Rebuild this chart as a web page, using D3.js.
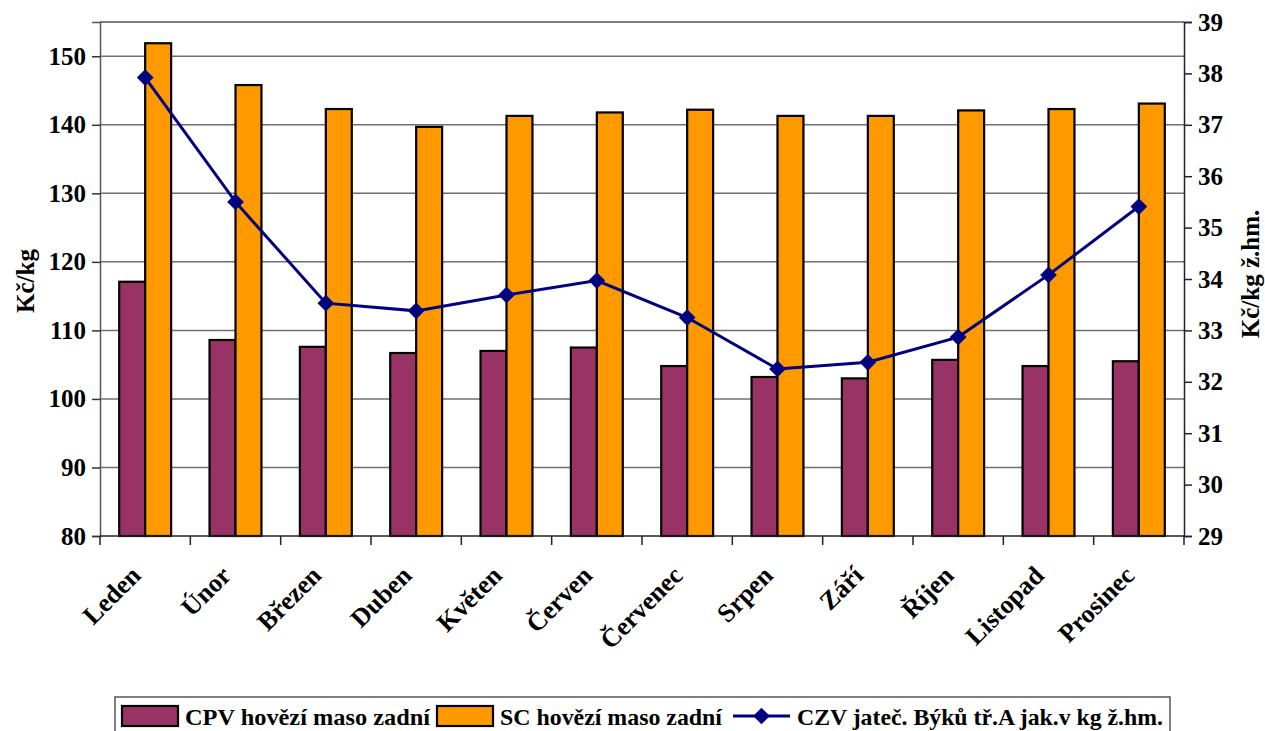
<!DOCTYPE html>
<html><head><meta charset="utf-8">
<script src="https://cdn.jsdelivr.net/npm/d3@7"></script>
</head>
<body style="margin:0">
<svg id="chart" width="1265" height="731" font-family="Liberation Serif" style="font-family:'Liberation Serif',serif"></svg>
<script>
const months = ["Leden","Únor","Březen","Duben","Květen","Červen","Červenec","Srpen","Září","Říjen","Listopad","Prosinec"];
const cpv = [117.1,108.6,107.6,106.7,107.0,107.5,104.8,103.2,103.0,105.7,104.8,105.5];
const sc  = [151.9,145.8,142.3,139.7,141.3,141.8,142.2,141.3,141.3,142.1,142.3,143.1];
const czv = [37.92,35.50,33.53,33.38,33.69,33.97,33.25,32.25,32.38,32.87,34.08,35.41];
const leftTicks = [80,90,100,110,120,130,140,150];
const rightTicks = [29,30,31,32,33,34,35,36,37,38,39];
const seriesNames = ["CPV hovězí maso zadní","SC hovězí maso zadní","CZV jateč. Býků tř.A jak.v kg ž.hm."];
const leftTitle = "Kč/kg";
const rightTitle = "Kč/kg ž.hm.";

const colors = {cpv:"#993366", sc:"#FF9900", czv:"#000080"};
const L = 100, R = 1184, T = 22, B = 536;
const svg = d3.select("#chart");

const x = d3.scaleBand().domain(months).range([L, R]).padding(0);
const x1 = d3.scaleBand().domain(["cpv","sc"]).range([0, x.bandwidth()]).paddingInner(0).paddingOuter(0.74);
const yL = d3.scaleLinear().domain([80,155]).range([B, T]);
const yR = d3.scaleLinear().domain([29,39]).range([B, T]);

function styleText(sel, size){
  return sel.attr("font-family", "Liberation Serif").attr("font-weight", "bold").attr("font-size", size)
    .style("font-family", "'Liberation Serif', serif").style("font-weight", "bold").style("font-size", size + "px")
    .attr("fill", "#000");
}

svg.append("g").selectAll("line").data(leftTicks.filter(d=>d>80)).join("line")
  .attr("x1", L).attr("x2", R).attr("y1", d=>yL(d)).attr("y2", d=>yL(d))
  .attr("stroke", "#707070").attr("stroke-width", 1.5);
svg.append("line").attr("x1", L).attr("x2", R).attr("y1", T).attr("y2", T)
  .attr("stroke", "#808080").attr("stroke-width", 2);

const groups = svg.append("g").selectAll("g").data(months).join("g")
  .attr("transform", d=>`translate(${x(d)},0)`);
groups.append("rect")
  .attr("x", x1("cpv")).attr("width", x1.bandwidth())
  .attr("y", (d,i)=>yL(cpv[i])).attr("height", (d,i)=>B - yL(cpv[i]))
  .attr("fill", colors.cpv).attr("stroke", "#000").attr("stroke-width", 2.2);
groups.append("rect")
  .attr("x", x1("sc")).attr("width", x1.bandwidth())
  .attr("y", (d,i)=>yL(sc[i])).attr("height", (d,i)=>B - yL(sc[i]))
  .attr("fill", colors.sc).attr("stroke", "#000").attr("stroke-width", 2.2);

const axL = svg.append("g").attr("transform", `translate(${L},0)`)
  .call(d3.axisLeft(yL).tickValues(leftTicks).tickSize(8).tickPadding(6).tickFormat(d3.format("d")));
axL.attr("font-family", "Liberation Serif").attr("font-size", 25);
axL.select(".domain").attr("stroke", "#555").attr("stroke-width", 1.5);
axL.selectAll(".tick line").attr("stroke", "#333").attr("stroke-width", 1.5);
styleText(axL.selectAll("text"), 25);

const axR = svg.append("g").attr("transform", `translate(${R},0)`)
  .call(d3.axisRight(yR).tickValues(rightTicks).tickSize(8).tickPadding(6).tickFormat(d3.format("d")));
axR.attr("font-family", "Liberation Serif").attr("font-size", 25);
axR.select(".domain").attr("stroke", "#222").attr("stroke-width", 1.5);
axR.selectAll(".tick line").attr("stroke", "#222").attr("stroke-width", 1.5);
styleText(axR.selectAll("text"), 25);

svg.append("line").attr("x1", L).attr("x2", R).attr("y1", B).attr("y2", B).attr("stroke", "#222").attr("stroke-width", 1.5);
const bounds = months.map(m=>x(m)).concat([R]);
svg.append("g").selectAll("line").data(bounds).join("line")
  .attr("x1", d=>d).attr("x2", d=>d).attr("y1", B).attr("y2", B+9)
  .attr("stroke", "#222").attr("stroke-width", 1.5);
styleText(svg.append("g").selectAll("text").data(months).join("text")
  .attr("transform", d=>`translate(${x(d)+x.bandwidth()/2-3},${B+41}) rotate(-45)`)
  .attr("text-anchor", "end").text(d=>d), 26);

const lineGen = d3.line().x((d,i)=>x(months[i]) + x.bandwidth()/2).y(d=>yR(d));
svg.append("path").datum(czv).attr("d", lineGen)
  .attr("fill", "none").attr("stroke", colors.czv).attr("stroke-width", 3);
svg.append("g").selectAll("path").data(czv).join("path")
  .attr("d", d3.symbol().type(d3.symbolSquare).size(140))
  .attr("transform", (d,i)=>`translate(${x(months[i]) + x.bandwidth()/2},${yR(d)}) rotate(45)`)
  .attr("fill", colors.czv);

styleText(svg.append("text").attr("transform", `translate(34,${(T+B)/2+2}) rotate(-90)`)
  .attr("text-anchor", "middle").text(leftTitle), 25);
styleText(svg.append("text").attr("transform", `translate(1259,${(T+B)/2-5}) rotate(-90)`)
  .attr("text-anchor", "middle").text(rightTitle), 25);

const lg = svg.append("g");
lg.append("rect").attr("x", 115).attr("y", 697).attr("width", 1055).attr("height", 50)
  .attr("fill", "#fff").attr("stroke", "#555").attr("stroke-width", 1.5);
const items = [
  {type:"rect", color:colors.cpv, sx:122, tx:185, tw:245, name:seriesNames[0]},
  {type:"rect", color:colors.sc, sx:437, tx:500, tw:222, name:seriesNames[1]},
  {type:"line", color:colors.czv, sx:733, tx:797, tw:366, name:seriesNames[2]}
];
items.forEach(it=>{
  if (it.type === "rect") {
    lg.append("rect").attr("x", it.sx).attr("y", 706).attr("width", 56).attr("height", 20)
      .attr("fill", it.color).attr("stroke", "#000").attr("stroke-width", 2.2);
  } else {
    lg.append("line").attr("x1", it.sx).attr("x2", it.sx+57).attr("y1", 716).attr("y2", 716)
      .attr("stroke", it.color).attr("stroke-width", 3);
    lg.append("path").attr("d", d3.symbol().type(d3.symbolSquare).size(140))
      .attr("transform", `translate(${it.sx+28.5},716) rotate(45)`).attr("fill", it.color);
  }
  styleText(lg.append("text").attr("x", it.tx).attr("y", 725)
    .attr("textLength", it.tw).attr("lengthAdjust", "spacingAndGlyphs").text(it.name), 24);
});
</script>
</body></html>
